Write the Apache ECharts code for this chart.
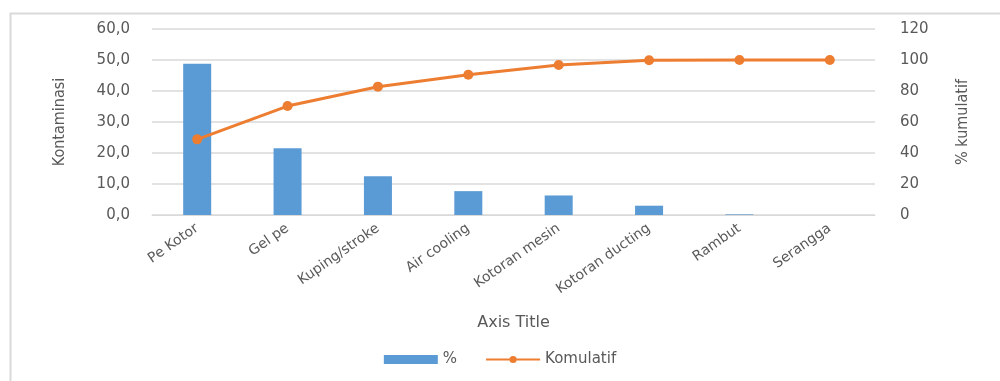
<!DOCTYPE html>
<html>
<head>
<meta charset="utf-8">
<script src="https://cdn.jsdelivr.net/npm/echarts@6/dist/echarts.min.js"></script>
<style>
  html, body { margin: 0; padding: 0; background: #fff; }
  #chart { width: 1000px; height: 381px; }
</style>
</head>
<body>
<div id="chart"></div>
<script>
// data
var categories = ['Pe Kotor', 'Gel pe', 'Kuping/stroke', 'Air cooling', 'Kotoran mesin', 'Kotoran ducting', 'Rambut', 'Serangga'];
var persen = [48.8, 21.5, 12.5, 7.7, 6.3, 3.0, 0.2, 0.0];
var komulatif = [48.8, 70.3, 82.8, 90.5, 96.8, 99.8, 100, 100];

var gray = '#595959';
var gridColor = '#D9D9D9';
var narrow = "'DejaVu Sans Condensed', 'Liberation Sans', sans-serif";

var option = {
    animation: false,
    backgroundColor: '#fff',
    textStyle: { fontFamily: 'DejaVu Sans' },
    graphic: [
        {
            type: 'rect',
            left: 8, top: 11,
            shape: { width: 1100, height: 500 },
            style: { fill: 'none', stroke: gridColor, lineWidth: 2 }
        }
    ],
    grid: {
        left: 152,
        right: 125,
        top: 29,
        bottom: 166
    },
    legend: {
        bottom: 9,
        left: 'center',
        itemGap: 28,
        itemWidth: 54,
        itemHeight: 9,
        textStyle: { color: gray, fontSize: 15 },
        data: [
            { name: '%', icon: 'rect' },
            { name: 'Komulatif' }
        ]
    },
    xAxis: {
        type: 'category',
        data: categories,
        name: 'Axis Title',
        nameLocation: 'middle',
        nameGap: 100,
        nameTextStyle: { color: gray, fontSize: 16 },
        axisLine: { lineStyle: { color: gridColor } },
        axisTick: { show: false },
        axisLabel: {
            rotate: 35,
            color: gray,
            fontSize: 14,
            margin: 12,
            interval: 0
        }
    },
    yAxis: [
        {
            type: 'value',
            min: 0, max: 60, interval: 10,
            name: 'Kontaminasi',
            nameLocation: 'middle',
            nameGap: 84,
            nameTextStyle: { color: gray, fontSize: 16, fontFamily: narrow },
            axisLine: { show: false },
            axisTick: { show: false },
            splitLine: { lineStyle: { color: gridColor, width: 1.5 } },
            axisLabel: {
                color: gray,
                fontSize: 15,
                margin: 22,
                formatter: function (v) { return v.toFixed(1).replace('.', ','); }
            }
        },
        {
            type: 'value',
            min: 0, max: 120, interval: 20,
            name: '% kumulatif',
            nameLocation: 'middle',
            nameGap: 80,
            nameTextStyle: { color: gray, fontSize: 16, fontFamily: narrow },
            axisLine: { show: false },
            axisTick: { show: false },
            splitLine: { show: false },
            axisLabel: { color: gray, fontSize: 15, margin: 25 }
        }
    ],
    series: [
        {
            name: '%',
            type: 'bar',
            yAxisIndex: 0,
            barWidth: '31%',
            itemStyle: { color: '#5B9BD5' },
            data: persen
        },
        {
            name: 'Komulatif',
            type: 'line',
            yAxisIndex: 1,
            symbol: 'circle',
            symbolSize: 10,
            lineStyle: { color: '#ED7D31', width: 3 },
            itemStyle: { color: '#ED7D31' },
            data: komulatif
        }
    ]
};

var myChart = echarts.init(document.getElementById('chart'));
myChart.setOption(option);
</script>
</body>
</html>
